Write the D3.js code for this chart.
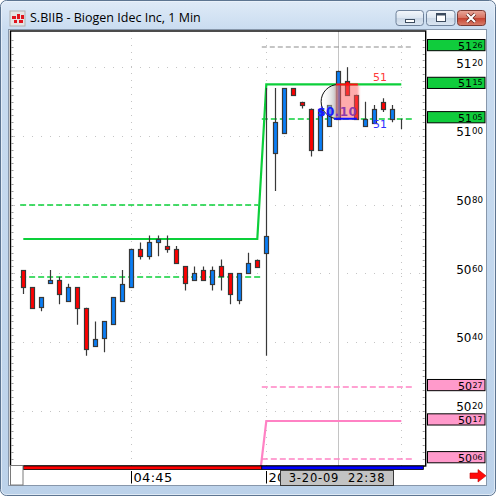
<!DOCTYPE html>
<html><head><meta charset="utf-8">
<script src="https://cdn.jsdelivr.net/npm/d3@7"></script>
<style>
html,body{margin:0;padding:0;background:#fff;}
svg{display:block;}
text{font-family:"DejaVu Sans",Verdana,sans-serif;}
</style></head><body>
<svg id="chart" width="496" height="496"></svg>
<script>
// S.BIIB one-minute bars (price in dollars)
const opens  = [50.61,50.56,50.50,50.57,50.58,50.52,50.56,50.50,50.39,50.41,50.45,50.52,50.56,50.67,50.65,50.69,50.68,50.67,50.62,50.58,50.61,50.57,50.62,50.60,50.52,50.60,50.64,50.66,50.95,51.01,51.14,51.10,51.08,50.96,51.03,51.05,51.16,51.12,51.03,51.04,51.10,51.05,51.05];
const highs  = [50.61,50.56,50.53,50.61,50.59,50.57,50.56,50.50,50.46,50.46,50.53,50.61,50.67,50.69,50.71,50.71,50.71,50.68,50.62,50.62,50.62,50.62,50.64,50.60,50.60,50.66,50.64,51.14,51.14,51.14,51.14,51.10,51.08,51.08,51.09,51.19,51.20,51.12,51.10,51.09,51.11,51.09,51.05];
const lows   = [50.54,50.50,50.49,50.57,50.51,50.52,50.45,50.36,50.39,50.37,50.45,50.52,50.56,50.64,50.64,50.65,50.66,50.63,50.55,50.58,50.58,50.55,50.55,50.51,50.51,50.60,50.62,50.36,50.84,51.01,51.12,51.08,50.94,50.96,51.03,51.05,51.12,51.05,51.03,51.04,51.07,51.04,51.02];
const closes = [50.56,50.50,50.53,50.58,50.54,50.56,50.50,50.38,50.41,50.46,50.53,50.57,50.67,50.65,50.69,50.70,50.67,50.63,50.57,50.60,50.58,50.61,50.59,50.54,50.60,50.63,50.62,50.71,51.04,51.14,51.12,51.09,50.96,51.08,51.09,51.19,51.12,51.05,51.05,51.08,51.08,51.08,51.05];

// price axis ticks and time ticks (bar index)
const priceTicks = [50.20, 50.40, 50.60, 50.80, 51.00, 51.20];
const timeTickBars = [12, 27, 42];
const timeTickLabels = ["04:45", "20", ""];

// running high / low lines, as [bar, price]
const highLine = [[0, 50.70], [26, 50.70], [27, 51.15], [42, 51.15]];
const lowLine  = [[26, 49.95], [27, 50.17], [42, 50.17]];

// dashed reference levels
const levelValues = [50.80, 50.59, 51.26, 51.05, 50.27, 50.06];
const levelFrom   = [-0.35, -0.35, 26.5, 26.5, 26.5, 26.5];
const levelTo     = [26.1, 26.5, 43.3, 43.3, 43.3, 43.3];
const levelKinds  = ["green", "green", "grey", "green", "pink", "pink"];

// price tags on the right scale
const tagValues = [51.26, 51.15, 51.05, 50.27, 50.17, 50.06];
const tagKinds  = ["green", "green", "green", "pink", "pink", "pink"];

// session strip under the bars (pre-market, regular)
const sessionFrom = [0, 26.5];
const sessionTo   = [26.5, 44.45];
const sessionColors = ["#ff0000", "#0000ff"];

// cursor and measured range
const cursorBar = 35;
const cursorLabel = "3-20-09  22:38";
const rangeHigh = 51.15, rangeLow = 51.05;
const rangeFromBar = 35, rangeToBar = 37;
const rangeText = "$0.10";
const upCount = "51", downCount = "51";

const svg = d3.select("#chart");
const W = 496, H = 496;
const plot = {left: 10.5, top: 31, right: 425.7, bottom: 466};

const x = d3.scaleLinear().domain([0, 42]).range([23.3, 401.3]);
const y = d3.scaleLinear().domain([50.00, 51.20]).range([479.4, 67.3]);

const defs = svg.append("defs");
function grad(id, stops, vertical = true) {
  const g = defs.append("linearGradient").attr("id", id)
    .attr("x1", 0).attr("y1", 0).attr("x2", vertical ? 0 : 1).attr("y2", vertical ? 1 : 0);
  stops.forEach(([o, c, a]) => g.append("stop").attr("offset", o).attr("stop-color", c).attr("stop-opacity", a == null ? 1 : a));
}
grad("frameG", [[0, "#dfeaf7"], [0.06, "#c9dcf0"], [1, "#bcd2ea"]]);
grad("btnG", [[0, "#f4f7fb"], [0.5, "#dce6f1"], [0.51, "#cbd8e7"], [1, "#dbe6f2"]]);
grad("closeG", [[0, "#e9a99c"], [0.5, "#d7705f"], [0.51, "#c5412f"], [1, "#d9826f"]]);
grad("shadeG", [[0, "#ffffff", 0], [1, "#9a9a9a", 0.8]], false);
defs.append("clipPath").attr("id", "plotClip").append("rect")
  .attr("x", plot.left + 0.5).attr("y", plot.top + 0.5)
  .attr("width", plot.right - plot.left - 1).attr("height", plot.bottom - plot.top - 0.5);
defs.append("filter").attr("id", "soft").attr("x", "-20%").attr("y", "-20%").attr("width", "140%").attr("height", "140%")
  .append("feGaussianBlur").attr("stdDeviation", 1.2);

// window frame and title bar
svg.append("rect").attr("x", 0.5).attr("y", 0.5).attr("width", W - 1).attr("height", H - 1)
  .attr("rx", 6).attr("fill", "url(#frameG)").attr("stroke", "#5d7591");
svg.append("rect").attr("x", 1.5).attr("y", 1.5).attr("width", W - 3).attr("height", H - 3)
  .attr("rx", 5).attr("fill", "none").attr("stroke", "#eef4fb").attr("stroke-opacity", 0.7);

const icon = svg.append("g").attr("transform", "translate(10,11)");
icon.append("rect").attr("width", 15).attr("height", 15).attr("fill", "#e4e4e4").attr("stroke", "#b0b0b0");
[[2, 5, 4, 3], [7, 3, 3, 5], [11, 4, 3, 4], [4, 9, 3, 3], [9, 9, 4, 3]].forEach(([a, b, c, d]) =>
  icon.append("rect").attr("x", a).attr("y", b).attr("width", c).attr("height", d).attr("fill", "#e0141e"));

svg.append("text").attr("x", 30).attr("y", 22).attr("font-size", 12.5)
  .style("font-family", "'Open Sans','Noto Sans',sans-serif").attr("fill", "#000")
  .text("S.BIIB - Biogen Idec Inc, 1 Min");

function button(x0, w, fill, stroke) {
  return svg.append("rect").attr("x", x0 + 0.5).attr("y", 10.5).attr("width", w).attr("height", 15)
    .attr("rx", 3).attr("fill", fill).attr("stroke", stroke);
}
button(395.5, 27.5, "url(#btnG)", "#6f829b");
svg.append("rect").attr("x", 405.5).attr("y", 19.5).attr("width", 9).attr("height", 3).attr("fill", "#fff").attr("stroke", "#3c4b5e");
button(426, 28.5, "url(#btnG)", "#6f829b");
svg.append("rect").attr("x", 436.5).attr("y", 13.5).attr("width", 9).attr("height", 8).attr("fill", "#fff").attr("stroke", "#3c4b5e");
svg.append("rect").attr("x", 436.5).attr("y", 13.5).attr("width", 9).attr("height", 2).attr("fill", "#3c4b5e");
button(457, 28, "url(#closeG)", "#7a3a33");
svg.append("path").attr("d", "M467,14 L475,22 M475,14 L467,22").attr("stroke", "#5a1d16").attr("stroke-width", 3.4);
svg.append("path").attr("d", "M467,14 L475,22 M475,14 L467,22").attr("stroke", "#fff").attr("stroke-width", 2.2);

// client area
svg.append("rect").attr("x", 8.5).attr("y", 29.5).attr("width", 478).attr("height", 456)
  .attr("fill", "#fff").attr("stroke", "#8797ab");

// dotted horizontal grid, one dot per bar slot
const gridG = svg.append("g").attr("clip-path", "url(#plotClip)");
const dotBars = d3.range(-1, 45);
priceTicks.forEach(p => {
  gridG.selectAll(null).data(dotBars).join("rect")
    .attr("x", d => Math.round(x(d))).attr("y", Math.round(y(p)))
    .attr("width", 1).attr("height", 1).attr("fill", "#c4c4c4");
});
// dotted vertical grid at time ticks
timeTickBars.forEach(b => {
  gridG.append("line").attr("x1", Math.round(x(b)) + 0.5).attr("x2", Math.round(x(b)) + 0.5)
    .attr("y1", plot.top).attr("y2", plot.bottom)
    .attr("stroke", "#c4c4c4").attr("stroke-dasharray", "1,6");
});

// minor ticks on both inner edges every 2 cents
const minor = d3.range(5004, 5130, 2).map(v => v / 100);
svg.append("g").selectAll("line").data(minor).join("line")
  .attr("x1", plot.left + 1).attr("x2", plot.left + 3)
  .attr("y1", d => Math.round(y(d)) + 0.5).attr("y2", d => Math.round(y(d)) + 0.5)
  .attr("stroke", "#9a9a9a");
svg.append("g").selectAll("line").data(minor).join("line")
  .attr("x1", plot.right - 3).attr("x2", plot.right - 1)
  .attr("y1", d => Math.round(y(d)) + 0.5).attr("y2", d => Math.round(y(d)) + 0.5)
  .attr("stroke", "#9a9a9a");

// cursor line
svg.append("line").attr("x1", Math.round(x(cursorBar)) + 0.5).attr("x2", Math.round(x(cursorBar)) + 0.5)
  .attr("y1", plot.top).attr("y2", plot.bottom).attr("stroke", "#c4c4c4");

const inner = svg.append("g").attr("clip-path", "url(#plotClip)");
const kindColor = {green: "#0ccf3a", grey: "#8c8c8c", pink: "#ff82c4"};
const kindWidth = {green: 1.7, grey: 1.2, pink: 1.4};

// dashed levels
const levelG = inner.append("g");
levelValues.forEach((v, i) => {
  const k = levelKinds[i];
  levelG.append("line")
    .attr("x1", x(levelFrom[i])).attr("x2", x(levelTo[i]))
    .attr("y1", Math.round(y(v))).attr("y2", Math.round(y(v)))
    .style("stroke", kindColor[k]).style("stroke-width", kindWidth[k])
    .style("stroke-dasharray", k === "grey" ? "5,3" : "6,3");
});

// running high / low lines
const line = d3.line().x(d => x(d[0])).y(d => y(d[1]));
inner.append("path").attr("d", line(highLine)).attr("fill", "none")
  .attr("stroke", kindColor.green).attr("stroke-width", 2.2);
inner.append("path").attr("d", line(lowLine)).attr("fill", "none")
  .attr("stroke", kindColor.pink).attr("stroke-width", 2.2);

// candles
const bars = d3.range(opens.length);
const cg = inner.append("g");
cg.selectAll("line").data(bars).join("line")
  .attr("x1", i => Math.round(x(i)) + 0.5).attr("x2", i => Math.round(x(i)) + 0.5)
  .attr("y1", i => y(highs[i])).attr("y2", i => y(lows[i]))
  .attr("stroke", "#383838").attr("stroke-width", 1.2);
cg.selectAll("rect").data(bars).join("rect")
  .attr("x", i => Math.round(x(i)) - 1.5).attr("width", 4)
  .attr("y", i => Math.round(y(Math.max(opens[i], closes[i]))) + 0.5)
  .attr("height", i => Math.max(0, Math.round(Math.abs(y(opens[i]) - y(closes[i])))))
  .attr("fill", i => closes[i] >= opens[i] ? "#0a7ef6" : "#ff0000")
  .attr("stroke", "#383838").attr("stroke-width", 1.2);

// measured range overlay at the cursor
const cx = x(cursorBar), rTop = y(rangeHigh), rBot = y(rangeLow);
const rad = (rBot - rTop) / 2;
inner.append("path")
  .attr("d", `M${cx},${rTop} A${rad},${rad} 0 0 0 ${cx},${rBot} Z`)
  .attr("fill", "url(#shadeG)");
inner.append("path")
  .attr("d", `M${cx},${rTop} A${rad},${rad} 0 0 0 ${cx},${rBot}`)
  .attr("fill", "none").attr("stroke", "#111").attr("stroke-width", 1);
inner.append("text").attr("x", cx - 21).attr("y", rBot - 2.5)
  .attr("font-size", 12).attr("font-weight", "bold").attr("letter-spacing", 0.4)
  .attr("fill", "#1a1aff").text(rangeText);
const rx0 = x(rangeFromBar) - 2.3, rx1 = x(rangeToBar) + 2.5;
inner.append("rect").attr("x", rx0).attr("y", rTop).attr("width", rx1 - rx0).attr("height", rBot - rTop)
  .attr("fill", "#ff5a5a").attr("fill-opacity", 0.5).attr("filter", "url(#soft)");
inner.append("line").attr("x1", rx0).attr("x2", rx1 - 1).attr("y1", rTop).attr("y2", rTop)
  .attr("stroke", "#ff1010").attr("stroke-width", 2);
inner.append("line").attr("x1", rx0 - 2).attr("x2", rx1 - 2).attr("y1", rBot).attr("y2", rBot)
  .attr("stroke", "#1010ff").attr("stroke-width", 2);
inner.append("text").attr("x", x(39) - 1.3).attr("y", rTop - 3.5).attr("font-size", 11)
  .attr("fill", "#ff3a3a").text(upCount);
inner.append("text").attr("x", x(39) - 1.3).attr("y", rBot + 9.5).attr("font-size", 11)
  .attr("fill", "#3030ff").text(downCount);

// plot frame
svg.append("rect").attr("x", plot.left).attr("y", plot.top).attr("width", plot.right - plot.left)
  .attr("height", plot.bottom - plot.top).attr("fill", "none").attr("stroke", "#000").attr("stroke-width", 1.4);

// session strip
sessionFrom.forEach((s, i) => {
  svg.append("rect").attr("x", x(s)).attr("y", plot.bottom)
    .attr("width", Math.min(x(sessionTo[i]), plot.right - 2) - x(s)).attr("height", 3.5)
    .attr("fill", sessionColors[i]).attr("stroke", "#000").attr("stroke-width", 0.8);
});
// scroll box
svg.append("rect").attr("x", 10.5).attr("y", 465.5).attr("width", 12.5).attr("height", 19.5)
  .attr("fill", "#fff").attr("stroke", "#7a7a7a");

// price scale labels: whole part large, cents raised and smaller
function priceParts(v) {
  const s = String(Math.round(v * 100));
  return [s.slice(0, 2), s.slice(2)];
}
function priceLabel(g, v, xr, yb, big) {
  const [a, b] = priceParts(v);
  const t = g.append("text").attr("x", xr).attr("y", yb).attr("text-anchor", "end").attr("fill", "#000");
  t.append("tspan").attr("font-size", big).text(a);
  t.append("tspan").attr("font-size", big * 0.72).attr("dy", -2).attr("dx", 0.5).text(b);
}
const axisG = svg.append("g");
priceTicks.forEach(p => priceLabel(axisG, p, 483, y(p) + 0.3, 12));

// price tags
tagValues.forEach((v, i) => {
  const yy = y(v);
  svg.append("rect").attr("x", 427.5).attr("y", yy - 7.2).attr("width", 57.5).attr("height", 11.2)
    .attr("fill", tagKinds[i] === "green" ? "#10cc3c" : "#ff9acb").attr("stroke", "#000");
  priceLabel(svg, v, 482.5, yy + 3, 11);
});

// time axis
timeTickBars.forEach((b, i) => {
  if (!timeTickLabels[i]) return;
  const xx = Math.round(x(b)) + 0.5;
  svg.append("line").attr("x1", xx).attr("x2", xx).attr("y1", 471).attr("y2", 483.5).attr("stroke", "#000");
  svg.append("text").attr("x", xx + 2).attr("y", 482.3).attr("font-size", 13).attr("letter-spacing", 0.3)
    .attr("fill", "#000").text(timeTickLabels[i]);
});
// cursor time box
svg.append("rect").attr("x", 280.5).attr("y", 470.5).attr("width", 113).attr("height", 15)
  .attr("fill", "#c3c3c3").attr("stroke", "#3a3a3a");
svg.append("text").attr("x", 337).attr("y", 482).attr("text-anchor", "middle").attr("font-size", 11.5)
  .attr("letter-spacing", 0.8).style("white-space", "pre").attr("fill", "#000").text(cursorLabel);

// scroll-right arrow
svg.append("path").attr("d", "M470,473 H478 V469.5 L486,475.8 L478,482 V478.5 H470 Z")
  .attr("fill", "#ff0a0a").attr("stroke", "#c00000").attr("stroke-width", 0.6);
</script>
</body></html>
